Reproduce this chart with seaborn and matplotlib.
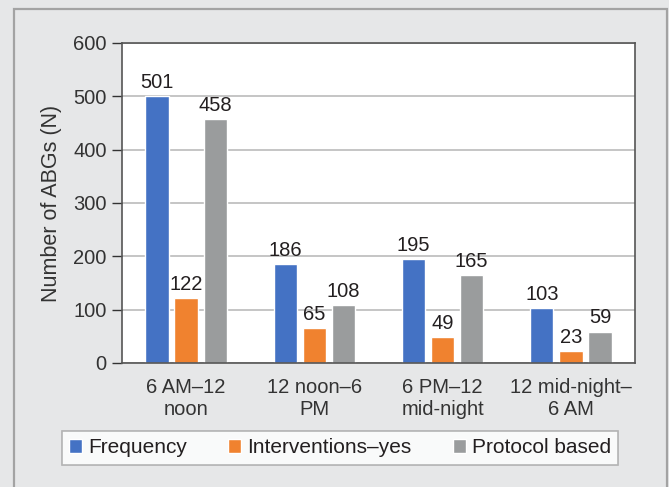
import matplotlib.pyplot as plt
import matplotlib.patches as mpatches
import seaborn as sns
import pandas as pd

categories = ["6 AM\u201312\nnoon", "12 noon\u20136\nPM", "6 PM\u201312\nmid-night", "12 mid-night\u2013\n6 AM"]
series = ["Frequency", "Interventions\u2013yes", "Protocol based"]
frequency = [501, 186, 195, 103]
interventions = [122, 65, 49, 23]
protocol = [458, 108, 165, 59]
colors = ["#4472c4", "#f0822f", "#9a9c9d"]

rows = []
for name, vals in zip(series, [frequency, interventions, protocol]):
    for cat, v in zip(categories, vals):
        rows.append({"Time": cat, "Series": name, "N": v})
df = pd.DataFrame(rows)

sns.set_style("white")
plt.rcParams["font.family"] = ["Liberation Sans", "DejaVu Sans"]

W, H = 669, 487
fig = plt.figure(figsize=(W / 100, H / 100), dpi=100)
fig.patch.set_facecolor("#e6e7e8")
# outer frame
fig.patches.append(mpatches.Rectangle((14 / W, -0.05), 653 / W, 1.05 - 9 / H,
                                      transform=fig.transFigure, fill=False,
                                      edgecolor="#a3a3a3", linewidth=1.6))

ax = fig.add_axes([122 / W, 1 - 363 / H, 513 / W, 320 / H])
sns.barplot(data=df, x="Time", y="N", hue="Series", palette=colors,
            width=0.68, gap=0.2, ax=ax, saturation=1)

for c in ax.containers:
    ax.bar_label(c, fontsize=14.5, padding=3, color="#231f20")

ax.set_ylim(0, 600)
ax.set_yticks(range(0, 601, 100))
ax.yaxis.grid(True, color="#c0c0c0", linewidth=1.3)
ax.set_axisbelow(True)
ax.set_xlabel("")
ax.set_ylabel("Number of ABGs (N)", fontsize=15.5, color="#333333", labelpad=8)
ax.tick_params(axis="y", labelsize=14.5, length=7, width=1, colors="#333333",
               direction="out", left=True, pad=4)
ax.tick_params(axis="x", labelsize=14.5, length=0, colors="#333333", pad=11)
for s in ax.spines.values():
    s.set_color("#555555")
    s.set_linewidth(1.2)

leg = ax.legend(loc="upper center", bbox_to_anchor=(0.425, -0.2125), ncol=3,
                fontsize=15, frameon=True, fancybox=False, edgecolor="#a3a3a3",
                handlelength=0.6, handleheight=0.6, handletextpad=0.3,
                columnspacing=2.0, borderpad=0.35, borderaxespad=0)
leg.get_frame().set_linewidth(1.2)
for t in leg.get_texts():
    t.set_color("#231f20")

fig.savefig("out.png", dpi=100, facecolor=fig.get_facecolor())
